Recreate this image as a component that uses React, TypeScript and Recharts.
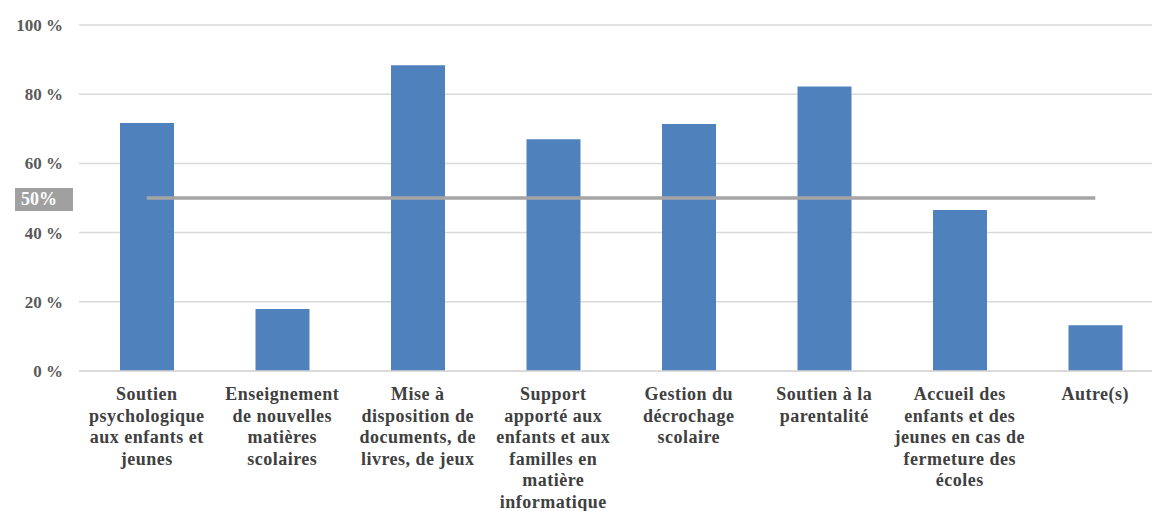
import {
  ComposedChart,
  Bar,
  Line,
  XAxis,
  YAxis,
  CartesianGrid,
  ReferenceLine
} from 'recharts';

// Category labels, with the line breaks used in the reference
const categories = [
  'Soutien\npsychologique\naux enfants et\njeunes',
  'Enseignement\nde nouvelles\nmatières\nscolaires',
  'Mise à\ndisposition de\ndocuments, de\nlivres, de jeux',
  'Support\napporté aux\nenfants et aux\nfamilles en\nmatière\ninformatique',
  'Gestion du\ndécrochage\nscolaire',
  'Soutien à la\nparentalité',
  'Accueil des\nenfants et des\njeunes en cas de\nfermeture des\nécoles',
  'Autre(s)'
];
const percentages = [71.7, 17.9, 88.4, 67.0, 71.4, 82.2, 46.5, 13.2];
const threshold = [50, 50, 50, 50, 50, 50, 50, 50];
const yTicks = [0, 20, 40, 60, 80, 100];
const thresholdLabel = '50%';

const data = categories.map((name, i) => ({
  name,
  value: percentages[i],
  seuil: threshold[i]
}));

const FONT = "'Liberation Serif', 'DejaVu Serif', serif";

function CategoryTick(props: any) {
  const { x, y, payload } = props;
  const lines = String(payload.value).split('\n');
  return (
    <text
      x={x}
      y={y}
      textAnchor="middle"
      fill="#404040"
      style={{ fontFamily: FONT, fontWeight: 'bold', fontSize: 18, letterSpacing: 0.5 }}
    >
      {lines.map((line, i) => (
        <tspan key={i} x={x} dy={i === 0 ? 29 : 21.6}>
          {line}
        </tspan>
      ))}
    </text>
  );
}

function ThresholdBadge(props: any) {
  const vb = props.viewBox || {};
  const bx = vb.x - 64;
  const by = vb.y - 10;
  return (
    <g>
      <rect x={bx} y={by} width={58} height={23} fill="#a0a0a0" />
      <text
        x={bx + 6}
        y={by + 17}
        fill="#ffffff"
        style={{ fontFamily: FONT, fontWeight: 'bold', fontSize: 18 }}
      >
        {thresholdLabel}
      </text>
    </g>
  );
}

export default function App() {
  return (
    <div
      style={{
        position: 'absolute',
        left: 0,
        top: 0,
        width: 1152,
        height: 511,
        overflow: 'hidden',
        background: '#ffffff'
      }}
    >
      <ComposedChart
        width={1170}
        height={511}
        data={data}
        margin={{ top: 25, right: 7, left: 0, bottom: 0 }}
      >
        <CartesianGrid vertical={false} stroke="#d9d9d9" strokeWidth={1.5} />
        <XAxis
          dataKey="name"
          interval={0}
          height={140}
          tickLine={false}
          tickSize={0}
          tickMargin={0}
          axisLine={{ stroke: '#d9d9d9', strokeWidth: 1.5 }}
          tick={<CategoryTick />}
        />
        <YAxis
          width={79}
          domain={[0, 100]}
          ticks={yTicks}
          axisLine={false}
          tickLine={false}
          tickSize={0}
          tickMargin={16}
          tickFormatter={(v) => `${v} %`}
          tick={{ fill: '#595959', fontSize: 17, fontWeight: 'bold', style: { fontFamily: FONT } }}
        />
        <ReferenceLine y={50} stroke="none" label={<ThresholdBadge />} />
        <Bar dataKey="value" fill="#4f81bd" barSize={54} isAnimationActive={false} />
        <Line
          type="linear"
          dataKey="seuil"
          stroke="#a5a5a5"
          strokeWidth={3.5}
          dot={false}
          activeDot={false}
          isAnimationActive={false}
        />
      </ComposedChart>
    </div>
  );
}
